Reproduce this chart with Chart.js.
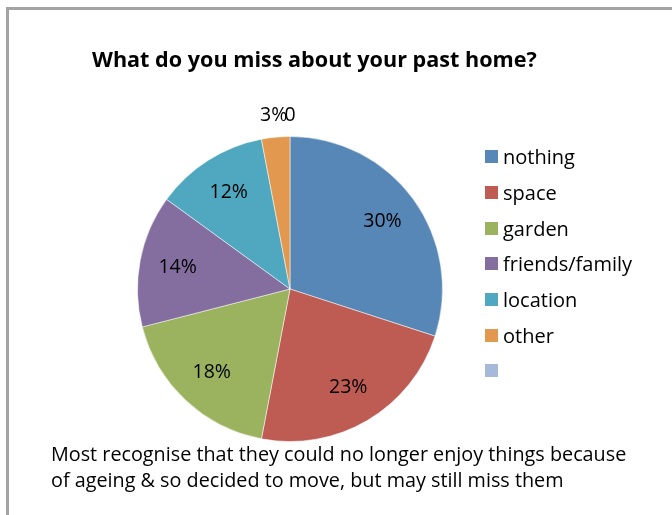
<!DOCTYPE html>
<html>
<head>
<meta charset="utf-8">
<script src="https://cdn.jsdelivr.net/npm/chart.js@4/dist/chart.umd.min.js"></script>
<style>
  html, body { margin: 0; padding: 0; background: #fff; overflow: hidden; }
  body { width: 672px; height: 515px; position: relative; font-family: "Open Sans", sans-serif; color: #000; }
  #frame { position: absolute; left: 6px; top: 7px; width: 700px; height: 600px;
           border-left: 3px solid #a3a3a3; border-top: 3px solid #a3a3a3; }
  #pie { position: absolute; left: 0; top: 0; }
  #title { position: absolute; left: 92px; top: 48px; font-size: 21.6px; line-height: 1; font-weight: bold; white-space: nowrap; }
  #legend { position: absolute; left: 485px; top: 139px; }
  .row { display: flex; align-items: center; height: 35.7px; font-size: 20px; white-space: nowrap; }
  .swatch { width: 13px; height: 13px; margin-right: 5px; }
  #caption { position: absolute; left: 51px; top: 441px; font-size: 19.8px; line-height: 25.5px; white-space: nowrap; }
</style>
</head>
<body>
<div id="frame"></div>
<canvas id="pie" width="672" height="515"></canvas>
<div id="title">What do you miss about your past home?</div>
<div id="legend"></div>
<div id="caption">Most recognise that they could no longer enjoy things because<br>of ageing &amp; so decided to move, but may still miss them</div>
<script>
// pie data (percent of answers)
const categories = ['nothing', 'space', 'garden', 'friends/family', 'location', 'other', ''];
const shares = [30, 23, 18, 14, 12, 3, 0];
const sliceColours = ['#5687b6', '#be5b53', '#9bb35f', '#846ea0', '#4fa8c0', '#e2994f', '#a6b9db'];

// html legend, same order as the slices
const legendBox = document.getElementById('legend');
categories.forEach((name, i) => {
    const row = document.createElement('div');
    row.className = 'row';
    row.innerHTML = `<span class="swatch" style="background:${sliceColours[i]}"></span><span>${name}</span>`;
    legendBox.appendChild(row);
});

// percent labels: inside the big slices, outside the tiny ones
const sliceLabels = {
    id: 'sliceLabels',
    afterDatasetsDraw(chart) {
        const ctx = chart.ctx;
        const meta = chart.getDatasetMeta(0);
        ctx.save();
        ctx.font = '19.5px "Open Sans"';
        ctx.fillStyle = '#000';
        ctx.textAlign = 'center';
        ctx.textBaseline = 'middle';
        meta.data.forEach((arc, i) => {
            const v = shares[i];
            const p = arc.getProps(['x', 'y', 'startAngle', 'endAngle', 'outerRadius']);
            const mid = (p.startAngle + p.endAngle) / 2;
            const r = v < 5 ? p.outerRadius * 1.14 : p.outerRadius * 0.75;
            const text = v === 0 ? '0' : v + '%';
            ctx.fillText(text, p.x + Math.cos(mid) * r, p.y + Math.sin(mid) * r);
        });
        ctx.restore();
    }
};

new Chart(document.getElementById('pie'), {
    type: 'pie',
    data: {
        labels: categories,
        datasets: [{
            data: shares,
            backgroundColor: sliceColours,
            borderColor: 'rgba(255,255,255,0.5)',
            borderWidth: 1
        }]
    },
    options: {
        responsive: false,
        animation: false,
        layout: { padding: { left: 137, right: 229, top: 136, bottom: 73 } },
        plugins: {
            legend: { display: false },
            title: { display: false },
            tooltip: { enabled: false }
        }
    },
    plugins: [sliceLabels]
});
</script>
</body>
</html>
